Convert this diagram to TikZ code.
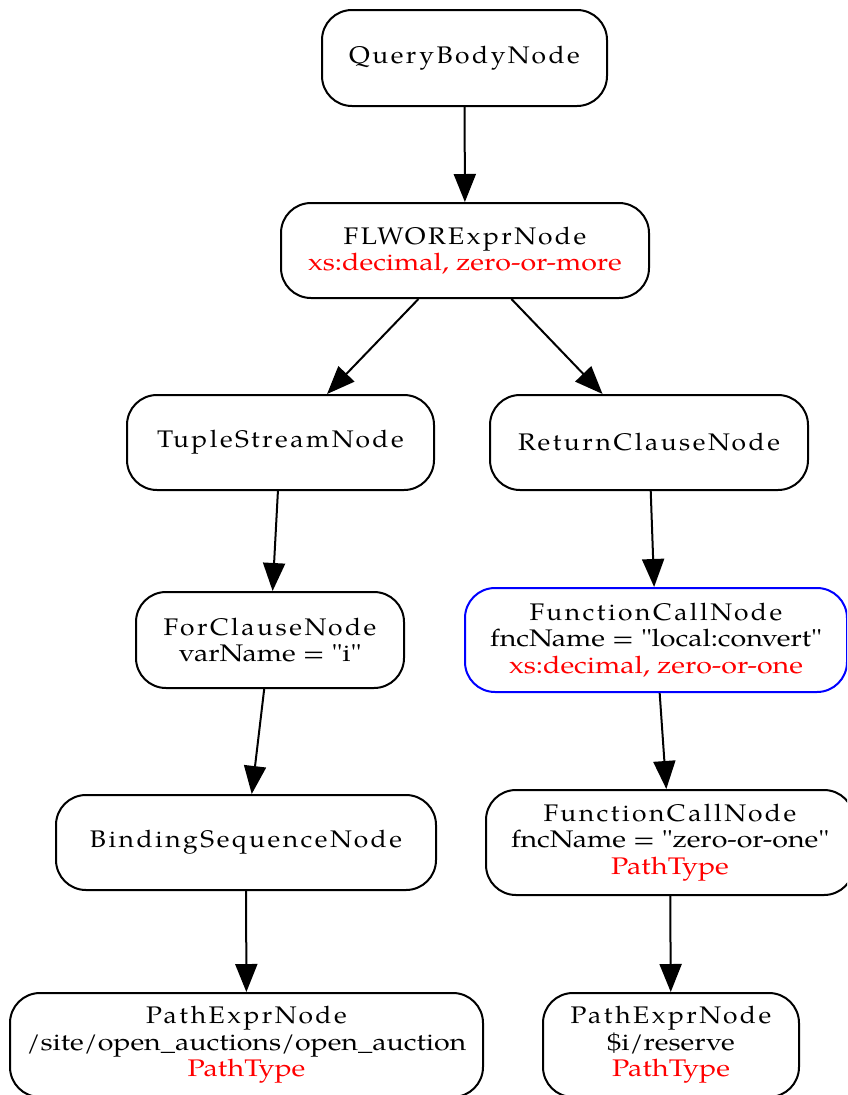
\documentclass[tikz,border=0pt]{standalone}
\usepackage{fontspec}
\setmainfont{TeX Gyre Pagella}[FakeStretch=1.19,Ligatures=TeXOff]
\newfontfamily\headfont{TeX Gyre Pagella}[FakeStretch=1.10,LetterSpace=10.5,Ligatures=TeXOff]
\usetikzlibrary{arrows.meta}
\definecolor{typered}{HTML}{FF0000}
\definecolor{callblue}{HTML}{0000FF}
\newcommand{\ty}[1]{\textcolor{typered}{#1}}
\begin{document}
\begin{tikzpicture}[x=1pt,y=-1pt,
  treenode/.style={draw=black, line width=2pt, rounded corners=30pt,
    align=center, inner sep=0pt,
    font=\fontsize{24}{26.5}\selectfont},
  edge/.style={line width=2pt, -{Triangle[length=28pt,width=22pt]}}
]
\useasboundingbox (0,0) rectangle (847,1095);
\clip (0,0) rectangle (847,1095);

% tree nodes
\node[treenode, minimum width=285pt, minimum height=96pt] (qb) at (464.5,58)
  {\headfont QueryBodyNode};
\node[treenode, minimum width=368pt, minimum height=95pt] (flwor) at (465,250.5)
  {{\headfont FLWORExprNode}\\\ty{xs:decimal, zero-or-more}};
\node[treenode, minimum width=307pt, minimum height=95pt] (tuple) at (280.5,442.5)
  {\headfont TupleStreamNode};
\node[treenode, minimum width=318pt, minimum height=95pt] (ret) at (649,442.5)
  {\headfont ReturnClauseNode};
\node[treenode, minimum width=268pt, minimum height=96pt] (for) at (270,640)
  {{\headfont ForClauseNode}\\varName = "i"};
\node[treenode, draw=callblue, minimum width=382pt, minimum height=104pt] (fc) at (656,640)
  {{\headfont FunctionCallNode}\\fncName = "local:convert"\\\ty{xs:decimal, zero-or-one}};
\node[treenode, minimum width=380pt, minimum height=95pt] (bind) at (246,842.5)
  {\headfont BindingSequenceNode};
\node[treenode, minimum width=368pt, minimum height=105pt] (fc2) at (670,842.5)
  {{\headfont FunctionCallNode}\\fncName = "zero-or-one"\\\ty{PathType}};
\node[treenode, minimum width=473pt, minimum height=104pt] (pathl) at (246.5,1045)
  {{\headfont PathExprNode}\\/site/open\_auctions/open\_auction\\\ty{PathType}};
\node[treenode, minimum width=256pt, minimum height=104pt] (pathr) at (671,1045)
  {{\headfont PathExprNode}\\\$i/reserve\\\ty{PathType}};

% parent-child edges
\draw[edge] (qb) -- (flwor);
\draw[edge] (flwor) -- (tuple);
\draw[edge] (flwor) -- (ret);
\draw[edge] (tuple) -- (for);
\draw[edge] (ret) -- (fc);
\draw[edge] (for) -- (bind);
\draw[edge] (fc) -- (fc2);
\draw[edge] (bind) -- (pathl);
\draw[edge] (fc2) -- (pathr);
\end{tikzpicture}
\end{document}
